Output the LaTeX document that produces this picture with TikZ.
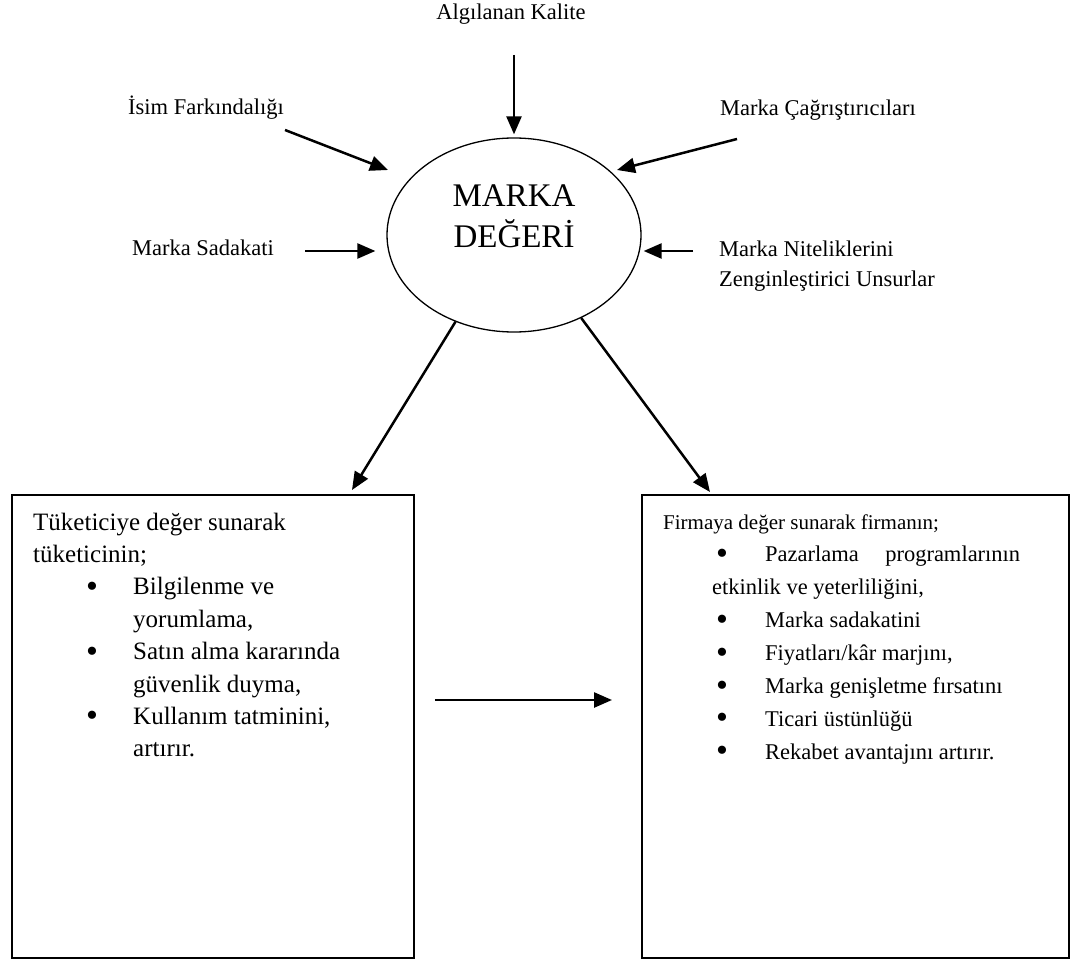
\documentclass[tikz,border=0pt]{standalone}
\usepackage{fontspec}
\setmainfont{Liberation Serif}
\usetikzlibrary{arrows.meta,shapes.geometric}
\newcommand\bigbul{\raisebox{-2.5pt}{\fontsize{34}{34}\selectfont\textbullet}}
\newcommand\lbul{\hspace*{53pt}\makebox[47pt][l]{\bigbul}}
\newcommand\lind{\hspace*{100pt}}
\newcommand\rbul{\hspace*{53pt}\makebox[49pt][l]{\bigbul}}
\begin{document}
\begin{tikzpicture}[x=1pt,y=-1pt,
  arr/.style={line width=2.5pt,-{Triangle[length=18pt,width=15pt]}},
  lbl/.style={inner sep=0pt,font=\fontsize{22.5}{30}\selectfont},
  boxstyle/.style={draw,line width=1.8pt,inner sep=0pt,anchor=north west},
  boxtext/.style={inner sep=0pt,anchor=base west}]
\useasboundingbox (0,0) rectangle (1075,965);
% central ellipse
\node[draw,ellipse,line width=1.3pt,inner sep=0pt,minimum width=254pt,minimum height=194pt] (me) at (514,235) {};
\node[inner sep=0pt,anchor=base,font=\fontsize{33}{41}\selectfont] (mtxt) at (514,207)
  {\begin{tabular}[t]{@{}c@{}}MARKA\\DEĞERİ\end{tabular}};
% labels
\node[lbl,anchor=base] (ak) at (511,20) {Algılanan Kalite};
\node[lbl,anchor=base] (isim) at (206,115) {İsim Farkındalığı};
\node[lbl,anchor=base] (cag) at (818,116) {Marka Çağrıştırıcıları};
\node[lbl,anchor=base] (sad) at (203,256) {Marka Sadakati};
\node[lbl,anchor=base west] (nit) at (719,257)
  {\begin{tabular}[t]{@{}l@{}}Marka Niteliklerini\\Zenginleştirici Unsurlar\end{tabular}};
% boxes
\node[boxstyle,minimum width=402pt,minimum height=463pt] (lbox) at (11,494) {};
\node[boxstyle,minimum width=427pt,minimum height=463pt] (rbox) at (641,494) {};
\node[boxtext,font=\fontsize{25}{32.4}\selectfont] (ltxt) at (33,530)
  {\begin{tabular}[t]{@{}l@{}}
  Tüketiciye değer sunarak\\
  tüketicinin;\\
  \lbul Bilgilenme ve\\
  \lind yorumlama,\\
  \lbul Satın alma kararında\\
  \lind güvenlik duyma,\\
  \lbul Kullanım tatminini,\\
  \lind artırır.
  \end{tabular}};
\node[boxtext,font=\fontsize{22.5}{32.9}\selectfont] (rtxt) at (663,529)
  {\begin{tabular}[t]{@{}l@{}}
  {\fontsize{21}{32.9}\selectfont Firmaya değer sunarak firmanın;}\\
  \rbul\makebox[255pt][s]{Pazarlama programlarının}\\
  \hspace*{49pt}etkinlik ve yeterliliğini,\\
  \rbul Marka sadakatini\\
  \rbul Fiyatları/kâr marjını,\\
  \rbul Marka genişletme fırsatını\\
  \rbul Ticari üstünlüğü\\
  \rbul Rekabet avantajını artırır.
  \end{tabular}};
% arrows into the ellipse
\draw[arr] ([shift={(3,35)}]ak.base) -- ([shift={(0,-3)}]me.north);
\draw[arr] ([shift={(79,15)}]isim.base) -- ([shift={(-126,-65)}]me.center);
\draw[arr] ([shift={(-81,23)}]cag.base) -- ([shift={(103,-65)}]me.center);
\draw[arr] ([shift={(102,-5)}]sad.base) -- ([shift={(-11,16)}]me.west);
\draw[arr] ([shift={(-26,-6)}]nit.base west) -- ([shift={(2,16)}]me.east);
% arrows out of the ellipse
\draw[arr] (me.236) -- ([shift={(341,-4)}]lbox.north west);
\draw[arr] (me.309) -- ([shift={(69,-2)}]rbox.north west);
\draw[arr] ([shift={(20,206)}]lbox.north east) -- ([shift={(-29,206)}]rbox.north west);
\end{tikzpicture}
\end{document}
